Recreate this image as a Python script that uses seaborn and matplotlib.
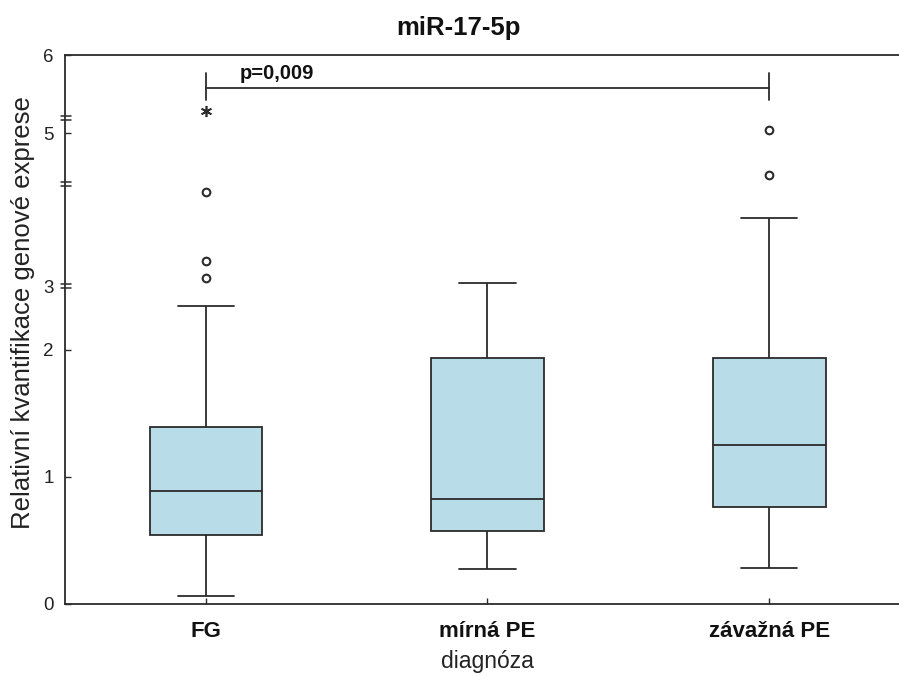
import numpy as np
import pandas as pd
import matplotlib
matplotlib.use("Agg")
import matplotlib.pyplot as plt
import seaborn as sns

# Groups and five-number summaries (lower whisker, Q1, median, Q3, upper whisker)
categories = ["FG", "mírná PE", "závažná PE"]
whisker_low = [0.063, 0.276, 0.283]
q1 = [0.543, 0.575, 0.764]
median = [0.890, 0.827, 1.252]
q3 = [1.394, 1.937, 1.937]
whisker_high = [2.683, 3.03, 3.67]

# Outliers (circles) and extremes (asterisk)
outlier_groups = ["FG", "FG", "FG", "závažná PE", "závažná PE"]
outlier_values = [3.08, 3.25, 3.92, 4.18, 5.06]
extreme_groups = ["FG"]
extreme_values = [5.38]

# Segmented value axis: breakpoints and their relative lengths
axis_values = [-1.0, 0.0, 1.0, 2.0, 3.0, 4.0, 5.0, 5.3, 6.0, 7.0]
axis_lengths = [-127, 0, 127, 254, 317, 419, 470, 485, 548, 611]
break_values = [3.0, 4.0, 5.3]
ytick_values = [0, 1, 2, 3, 5, 6]

p_text = "p=0,009"
p_pair = ("FG", "závažná PE")
p_level = 5.633

rows = []
for c, a, b, m, d, e in zip(categories, whisker_low, q1, median, q3, whisker_high):
    for v in (a, b, m, d, e):
        rows.append({"diagnóza": c, "value": v})
df = pd.DataFrame(rows)
out_df = pd.DataFrame({"diagnóza": outlier_groups, "value": outlier_values})

sns.set_theme(style="ticks")
plt.rcParams["font.family"] = ["Liberation Sans", "DejaVu Sans"]

fig = plt.figure(figsize=(8.99, 6.76), dpi=100)
W, H = 899, 676
ax = fig.add_axes([65 / W, (H - 604) / H, (910 - 65) / W, (604 - 55) / H])


def fwd(v):
    return np.interp(v, axis_values, axis_lengths)


def inv(t):
    return np.interp(t, axis_lengths, axis_values)


ax.set_yscale("function", functions=(fwd, inv))

line_col = "#2b2b2b"
sns.boxplot(data=df, x="diagnóza", y="value", order=categories, whis=(0, 100),
            width=0.4, color="#b8dde8", saturation=1, linecolor=line_col,
            linewidth=1.3, fliersize=0, ax=ax)

sns.stripplot(data=out_df, x="diagnóza", y="value", order=categories,
              jitter=False, color="white", edgecolor=line_col, linewidth=1.5,
              size=5.5, ax=ax, zorder=5)

for g, v in zip(extreme_groups, extreme_values):
    ax.plot([categories.index(g)], [v], marker=(6, 2, 0), markersize=8,
            color=line_col, markeredgewidth=1.2, linestyle="none", zorder=5)

ax.set_xlim(-0.5, 2.5)
ax.set_ylim(0, 6)

# Significance bracket
x0, x1 = categories.index(p_pair[0]), categories.index(p_pair[1])
ax.plot([x0, x1], [p_level, p_level], color=line_col, lw=1.3)
for xx in (x0, x1):
    ax.plot([xx, xx], [5.5, 5.8], color=line_col, lw=1.3)
ax.text(x0 + 0.12, 5.80, p_text, fontsize=14.5, fontweight="bold",
        color="#111111", ha="left", va="center")

# Axis breaks drawn as double marks on the left spine
for bv in break_values:
    yd = ax.transData.transform((0, bv))[1]
    for off in (-2.0, 2.0):
        yax = ax.transAxes.inverted().transform((0, yd + off))[1]
        ax.plot([-4 / 845, 6 / 845], [yax, yax], transform=ax.transAxes,
                color=line_col, lw=1.1, clip_on=False, zorder=6)

ax.set_yticks(ytick_values)
ax.set_yticklabels([str(t) for t in ytick_values])
for t, tick in zip(ytick_values, ax.yaxis.get_major_ticks()):
    if t in break_values:
        tick.tick1line.set_visible(False)
ax.tick_params(axis="y", direction="in", length=4, width=1, labelsize=13.5,
               colors=line_col, labelcolor="#222222", pad=8)
ax.tick_params(axis="x", direction="in", length=4, width=1, labelsize=16,
               colors=line_col, labelcolor="#111111", pad=12)
for lab in ax.get_xticklabels():
    lab.set_fontweight("bold")

for s in ax.spines.values():
    s.set_color(line_col)
    s.set_linewidth(1.3)

ax.set_xlabel("diagnóza", fontsize=16.5, color="#222222", labelpad=6)
ax.set_ylabel("Relativní kvantifikace genové exprese", fontsize=18.5,
              color="#222222")
ax.yaxis.set_label_coords(-0.036, 0.53)
fig.text(458 / W, 1 - 28 / H, "miR-17-5p", fontsize=18.5, fontweight="bold",
         ha="center", va="center", color="#111111")

fig.savefig("out.png", dpi=100)
